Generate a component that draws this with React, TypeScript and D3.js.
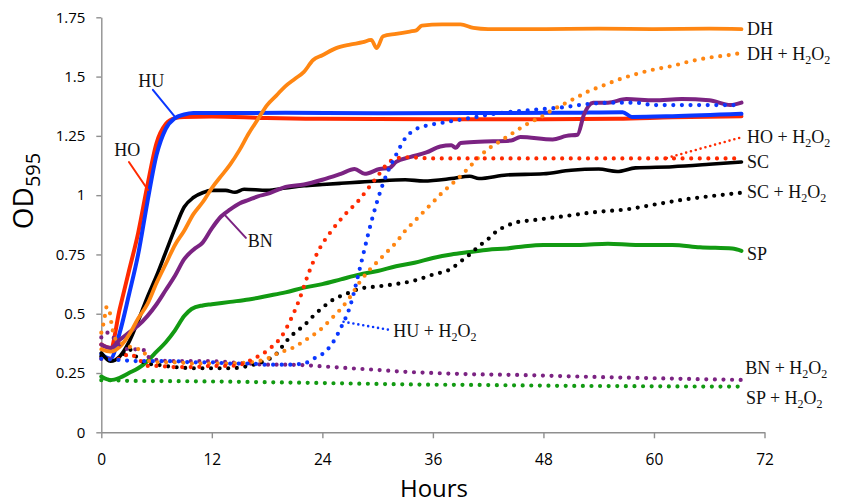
import React, { useRef, useEffect } from "react";
import * as d3 from "d3";

type Pt = [number, number];

// axis ticks
const xTicks = [0, 12, 24, 36, 48, 60, 72];
const yTicks = [0, 0.25, 0.5, 0.75, 1, 1.25, 1.5, 1.75];
const yTickLabels = ["0", "0.25", "0.5", "0.75", "1", "1.25", "1.5", "1.75"];

// solid series: [hours, OD595]
const HO: Pt[] = [[0, 0.37], [1, 0.355], [2, 0.52], [3, 0.68], [4, 0.84], [5, 1.04], [6, 1.22], [7, 1.3], [8, 1.325], [9, 1.33], [12, 1.332], [18, 1.325], [24, 1.322], [36, 1.32], [48, 1.32], [56, 1.322], [62, 1.328], [69.5, 1.333]];
const HU: Pt[] = [[0, 0.33], [1, 0.31], [2, 0.42], [3, 0.58], [4, 0.75], [5, 0.97], [6, 1.17], [7, 1.28], [8, 1.325], [9, 1.34], [10, 1.346], [20, 1.347], [30, 1.345], [40, 1.346], [50, 1.347], [56.6, 1.35], [57.6, 1.33], [62, 1.333], [69.5, 1.343]];
const SC: Pt[] = [[0, 0.335], [1, 0.3], [2, 0.32], [3, 0.38], [4, 0.47], [5, 0.57], [6, 0.66], [7, 0.76], [8, 0.86], [9, 0.95], [10, 0.99], [11, 1.01], [12, 1.02], [13.5, 1.02], [14.5, 1.012], [15.5, 1.025], [18, 1.02], [20, 1.03], [22, 1.04], [24, 1.045], [26, 1.05], [28, 1.055], [30, 1.06], [33, 1.065], [35, 1.06], [38, 1.07], [40, 1.08], [41, 1.07], [44, 1.085], [48, 1.09], [51, 1.105], [54, 1.11], [56, 1.1], [58, 1.115], [62, 1.12], [66, 1.13], [69.5, 1.14]];
const BN: Pt[] = [[0, 0.37], [1, 0.355], [2, 0.39], [3, 0.42], [4, 0.45], [5, 0.49], [6, 0.54], [7, 0.6], [8, 0.66], [9, 0.73], [10, 0.77], [11, 0.8], [12, 0.86], [13, 0.91], [14, 0.94], [15, 0.965], [16, 0.98], [17, 0.995], [18, 1.005], [19, 1.02], [20, 1.035], [22, 1.045], [24, 1.065], [26, 1.09], [27.5, 1.11], [28.6, 1.09], [30.2, 1.11], [31.3, 1.115], [32, 1.14], [33.5, 1.16], [35.3, 1.18], [36.8, 1.205], [38, 1.21], [38.5, 1.2], [39, 1.22], [41, 1.225], [44.5, 1.23], [45.5, 1.245], [49, 1.235], [50.5, 1.25], [51.7, 1.255], [52.4, 1.34], [53.4, 1.39], [55, 1.39], [57, 1.405], [60, 1.4], [63, 1.405], [66, 1.4], [68.3, 1.38], [69.5, 1.39]];
const DH: Pt[] = [[0, 0.35], [1, 0.34], [2, 0.36], [3, 0.41], [4, 0.48], [5, 0.54], [6, 0.63], [7, 0.71], [8, 0.79], [9, 0.85], [10, 0.92], [11, 0.97], [12, 1.03], [13, 1.08], [14, 1.13], [15, 1.19], [16, 1.26], [17, 1.32], [18, 1.38], [19, 1.42], [20, 1.46], [21, 1.49], [22, 1.52], [23, 1.57], [24, 1.59], [25.5, 1.62], [27, 1.635], [28.4, 1.645], [29.3, 1.655], [29.9, 1.62], [30.6, 1.67], [32, 1.68], [33.5, 1.69], [34.2, 1.695], [34.8, 1.715], [37, 1.72], [39, 1.72], [40.4, 1.705], [42, 1.7], [48, 1.7], [54, 1.702], [60, 1.7], [66, 1.702], [69.5, 1.7]];
const SP: Pt[] = [[0, 0.235], [1, 0.22], [2, 0.23], [3, 0.25], [4, 0.27], [5, 0.3], [6, 0.34], [7, 0.38], [8, 0.43], [9, 0.49], [9.8, 0.52], [11, 0.535], [12, 0.54], [14, 0.55], [16, 0.56], [18, 0.575], [20, 0.59], [22, 0.61], [24, 0.625], [26, 0.645], [28, 0.665], [30, 0.68], [32, 0.7], [34, 0.715], [36, 0.735], [38, 0.75], [40, 0.76], [42, 0.77], [44, 0.775], [46, 0.785], [48, 0.79], [52, 0.79], [55, 0.795], [58, 0.79], [62, 0.79], [65, 0.78], [68.5, 0.775], [69.5, 0.765]];

// + H2O2 series (dotted)
const HO_H: Pt[] = [[0, 0.31], [1, 0.31], [2, 0.31], [3, 0.33], [4, 0.31], [5, 0.28], [6, 0.28], [8, 0.275], [10, 0.275], [12, 0.28], [14, 0.28], [15.5, 0.29], [16.5, 0.31], [17.5, 0.33], [18.5, 0.36], [19.5, 0.4], [20.5, 0.47], [21.5, 0.56], [22.5, 0.67], [23.5, 0.76], [25, 0.85], [26.5, 0.92], [28, 0.98], [29, 1.03], [30, 1.08], [31, 1.13], [32, 1.155], [33, 1.16], [36, 1.155], [42, 1.155], [48, 1.155], [54, 1.155], [60, 1.155], [66, 1.155], [69.5, 1.155]];
const HU_H: Pt[] = [[0, 0.31], [2, 0.305], [4, 0.3], [6, 0.3], [8, 0.3], [10, 0.295], [12, 0.295], [14, 0.29], [16, 0.29], [18, 0.285], [20, 0.285], [22, 0.29], [23, 0.31], [24, 0.33], [25, 0.37], [26, 0.44], [27, 0.53], [28, 0.68], [28.5, 0.76], [29, 0.84], [30, 0.98], [31, 1.09], [32, 1.17], [33, 1.24], [34, 1.275], [35, 1.29], [37, 1.305], [40, 1.325], [43, 1.345], [47, 1.36], [50, 1.37], [53, 1.385], [56, 1.39], [58, 1.39], [60, 1.38], [64, 1.38], [69.5, 1.38]];
const DH_H: Pt[] = [[0, 0.42], [0.3, 0.47], [0.6, 0.53], [0.9, 0.51], [1.1, 0.46], [1.3, 0.42], [1.6, 0.39], [2.5, 0.37], [3.5, 0.355], [4.5, 0.345], [5.2, 0.3], [6, 0.295], [8, 0.295], [10, 0.29], [12, 0.29], [14, 0.29], [16, 0.295], [17, 0.3], [18, 0.31], [19, 0.33], [20, 0.345], [21, 0.36], [22, 0.385], [23, 0.41], [24, 0.44], [25, 0.48], [26, 0.52], [27, 0.57], [28, 0.63], [29, 0.68], [30, 0.72], [31, 0.76], [32, 0.8], [33, 0.85], [34, 0.89], [35, 0.93], [36, 0.97], [37, 1.01], [38, 1.045], [39, 1.08], [40, 1.12], [41, 1.16], [42, 1.195], [43, 1.22], [44, 1.245], [45, 1.27], [46, 1.295], [47, 1.315], [48, 1.335], [49, 1.36], [50, 1.38], [51, 1.4], [52, 1.42], [53, 1.44], [54, 1.455], [56, 1.485], [58, 1.51], [60, 1.53], [62, 1.545], [64, 1.565], [66, 1.58], [68, 1.59], [69.5, 1.6]];
const SC_H: Pt[] = [[0, 0.32], [1, 0.305], [2, 0.31], [3, 0.35], [4, 0.31], [5, 0.29], [6, 0.285], [8, 0.275], [10, 0.27], [12, 0.27], [14, 0.27], [16, 0.28], [17, 0.29], [18, 0.305], [19, 0.33], [20, 0.38], [21, 0.42], [22, 0.45], [23, 0.49], [24, 0.525], [25, 0.555], [26, 0.575], [27, 0.59], [28, 0.605], [30, 0.615], [32, 0.625], [34, 0.64], [36, 0.665], [38, 0.69], [39, 0.72], [40, 0.75], [41, 0.785], [42, 0.815], [43, 0.85], [44, 0.87], [45, 0.885], [47, 0.895], [50, 0.91], [54, 0.93], [57, 0.94], [60, 0.96], [63, 0.98], [66, 0.995], [69.5, 1.01]];
const BN_H: Pt[] = [[0, 0.4], [0.4, 0.42], [0.8, 0.42], [1.3, 0.4], [2, 0.37], [3, 0.35], [4, 0.35], [4.7, 0.345], [5.3, 0.31], [6, 0.305], [8, 0.3], [10, 0.3], [12, 0.3], [14, 0.295], [16, 0.29], [18, 0.285], [20, 0.285], [22, 0.283], [24, 0.278], [27, 0.27], [30, 0.263], [33, 0.255], [36, 0.25], [40, 0.245], [45, 0.242], [50, 0.237], [54, 0.233], [60, 0.228], [65, 0.224], [69.5, 0.221]];
const SP_H: Pt[] = [[0, 0.22], [1, 0.22], [3, 0.217], [6, 0.216], [10, 0.215], [15, 0.213], [20, 0.21], [25, 0.207], [30, 0.204], [35, 0.201], [40, 0.2], [45, 0.198], [50, 0.196], [55, 0.195], [60, 0.194], [65, 0.193], [69.5, 0.193]];

const RED = "#ff2a00";
const BLUE = "#0a37ff";
const ORANGE = "#ff8612";
const PURPLE = "#7b2382";
const GREEN = "#129a12";
const BLACK = "#000000";

const solid = [
  { data: HO, color: RED, w: 4 },
  { data: HU, color: BLUE, w: 4 },
  { data: SC, color: BLACK, w: 3.6 },
  { data: BN, color: PURPLE, w: 4 },
  { data: DH, color: ORANGE, w: 3.8 },
  { data: SP, color: GREEN, w: 4 },
];
const dotted = [
  { data: SP_H, color: GREEN },
  { data: BN_H, color: PURPLE },
  { data: SC_H, color: BLACK },
  { data: DH_H, color: ORANGE },
  { data: HO_H, color: RED },
  { data: HU_H, color: BLUE },
];

// label leader lines (data coords) and label anchors [hours, OD, text, subscripted]
const leaders = [
  { a: [5.6, 1.444], b: [8.0, 1.33], color: BLUE, dot: false },
  { a: [3.0, 1.14], b: [5.07, 1.022], color: RED, dot: false },
  { a: [13.4, 0.917], b: [15.7, 0.82], color: PURPLE, dot: false },
  { a: [26.3, 0.466], b: [31.4, 0.431], color: BLUE, dot: true },
  { a: [61.4, 1.157], b: [69.6, 1.245], color: RED, dot: true },
];
const labels: [number, number, string, boolean][] = [
  [70.1, 1.7, "DH", false],
  [70.1, 1.595, "DH", true],
  [70.1, 1.245, "HO", true],
  [70.1, 1.14, "SC", false],
  [70.1, 1.013, "SC", true],
  [70.1, 0.752, "SP", false],
  [69.9, 0.272, "BN", true],
  [70.0, 0.145, "SP", true],
  [4.0, 1.482, "HU", false],
  [1.4, 1.19, "HO", false],
  [15.9, 0.806, "BN", false],
  [31.7, 0.428, "HU", true],
];

const W = 843;
const H = 504;

export default function App() {
  const ref = useRef<SVGSVGElement>(null);

  useEffect(() => {
    if (!ref.current) return;
    const svg = d3.select(ref.current);
    svg.selectAll("*").remove();

    const x = d3.scaleLinear().domain([0, 72]).range([101.3, 764.5]);
    const y = d3.scaleLinear().domain([0, 1.75]).range([432.3, 17.3]);
    const axisColor = "#8f8f8f";
    const tickFont = "'Open Sans', 'Noto Sans', sans-serif";

    // y axis
    const gy = svg
      .append("g")
      .attr("transform", `translate(${x(0)},0)`)
      .call(
        d3
          .axisLeft(y)
          .tickValues(yTicks)
          .tickFormat((d, i) => yTickLabels[i])
          .tickSize(5)
          .tickSizeOuter(0)
          .tickPadding(11)
      );
    gy.selectAll("path,line").attr("stroke", axisColor).attr("stroke-width", 1.4);
    gy.selectAll("text").attr("font-family", tickFont).attr("font-size", 15).attr("fill", "#000");

    // x axis
    const gx = svg
      .append("g")
      .attr("transform", `translate(0,${y(0)})`)
      .call(
        d3
          .axisBottom(x)
          .tickValues(xTicks)
          .tickFormat(d3.format("d"))
          .tickSize(6)
          .tickSizeOuter(0)
          .tickPadding(16)
      );
    gx.selectAll("path,line").attr("stroke", axisColor).attr("stroke-width", 1.4);
    gx.selectAll("text").attr("font-family", tickFont).attr("font-size", 15.5).attr("fill", "#000");

    // axis titles
    svg
      .append("text")
      .attr("x", 434)
      .attr("y", 497)
      .attr("text-anchor", "middle")
      .attr("font-family", tickFont)
      .attr("font-size", 24)
      .text("Hours");
    const yt = svg
      .append("text")
      .attr("transform", "translate(33,191) rotate(-90)")
      .attr("text-anchor", "middle")
      .attr("font-family", tickFont)
      .attr("font-size", 28);
    yt.append("tspan").text("OD");
    yt.append("tspan").attr("font-size", 20).attr("dy", 7).text("595");

    const line = d3
      .line<Pt>()
      .x((d) => x(d[0]))
      .y((d) => y(d[1]))
      .curve(d3.curveMonotoneX);

    // solid lines
    svg
      .append("g")
      .selectAll("path")
      .data(solid)
      .enter()
      .append("path")
      .attr("d", (d) => line(d.data))
      .attr("fill", "none")
      .attr("stroke", (d) => d.color)
      .attr("stroke-width", (d) => d.w)
      .attr("stroke-linejoin", "round")
      .attr("stroke-linecap", "round");

    // dotted lines
    svg
      .append("g")
      .selectAll("path")
      .data(dotted)
      .enter()
      .append("path")
      .attr("d", (d) => line(d.data))
      .attr("fill", "none")
      .attr("stroke", (d) => d.color)
      .attr("stroke-width", 4.2)
      .attr("stroke-linecap", "round")
      .attr("stroke-dasharray", "0 8.6");

    // leader lines
    svg
      .append("g")
      .selectAll("line")
      .data(leaders)
      .enter()
      .append("line")
      .attr("x1", (d) => x(d.a[0]))
      .attr("y1", (d) => y(d.a[1]))
      .attr("x2", (d) => x(d.b[0]))
      .attr("y2", (d) => y(d.b[1]))
      .attr("stroke", (d) => d.color)
      .attr("stroke-width", (d) => (d.dot ? 2.6 : 2))
      .attr("stroke-linecap", "round")
      .attr("stroke-dasharray", (d) => (d.dot ? "0 5" : null));

    // series labels
    const lg = svg
      .append("g")
      .attr("font-family", "'Liberation Serif', 'Times New Roman', serif")
      .attr("font-size", 18)
      .attr("fill", "#111");
    labels.forEach(([t, v, name, h2o2]) => {
      const tx = lg
        .append("text")
        .attr("x", x(t))
        .attr("y", y(v) + 6);
      if (!h2o2) {
        tx.text(name);
        return;
      }
      tx.append("tspan").text(`${name} + H`);
      tx.append("tspan").attr("font-size", 12).attr("dy", 4).text("2");
      tx.append("tspan").attr("dy", -4).text("O");
      tx.append("tspan").attr("font-size", 12).attr("dy", 4).text("2");
    });
  }, []);

  return (
    <svg
      ref={ref}
      width={W}
      height={H}
      style={{ position: "absolute", left: 0, top: 0, background: "#fff" }}
    />
  );
}
